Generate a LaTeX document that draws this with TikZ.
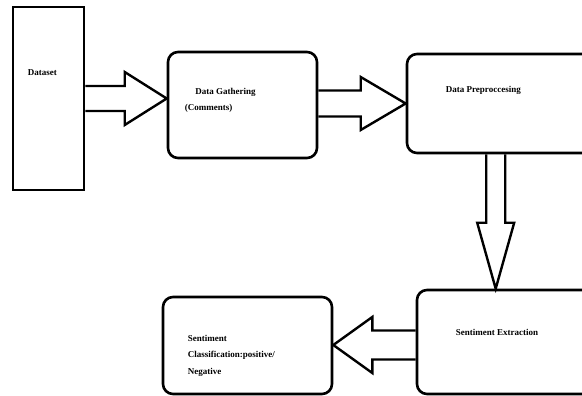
\documentclass[tikz,border=0pt]{standalone}
\usepackage{fontspec}
\setmainfont{Liberation Serif}
\usetikzlibrary{calc,positioning}
\tikzset{
  stagebox/.style={draw, line width=2.6pt, rounded corners=10pt, inner sep=0pt},
  databox/.style={stagebox, rounded corners=0pt},
  stagetext/.style={inner sep=0pt, anchor=north west, align=left,
    font=\fontsize{9}{16.5}\selectfont\bfseries},
  fatarr/.style={draw, line width=2.4pt, line join=miter}
}
% hollow block arrow: from, to, shaft half width, head half width, head length
\newcommand{\fatarrow}[5]{%
  \coordinate (neck) at ($(#2)!#5!(#1)$);
  \draw[fatarr] ($(#1)!#3!90:(#2)$) -- ($(neck)!#3!90:(#2)$) -- ($(neck)!#4!90:(#2)$)
    -- (#2) -- ($(neck)!#4!-90:(#2)$) -- ($(neck)!#3!-90:(#2)$) -- ($(#1)!#3!-90:(#2)$);
}

\begin{document}
\begin{tikzpicture}[x=1pt, y=-1pt]
    \useasboundingbox (0,0) rectangle (582,396);
    \clip (0,0) rectangle (582,396);
    % stages
    \node[databox, minimum width=71pt, minimum height=183pt] (dataset) at (48.5,98.5) {};
    \node[stagebox, minimum width=149pt, minimum height=106pt] (gather) at (242.5,105) {};
    \node[stagebox, minimum width=200pt, minimum height=99pt] (preproc) at (507,103.5) {};
    \node[stagebox, minimum width=200pt, minimum height=104pt] (extract) at (517,342) {};
    \node[stagebox, minimum width=169pt, minimum height=97pt] (classif) at (247.5,345.5) {};
    % labels
    \node[stagetext] (datasetText) at ($(dataset.north west)+(16,64)$) {Dataset};
    \node[stagetext] (gatherText) at ($(gather.north west)+(18,37)$) {\hspace*{10.5pt}Data Gathering\\(Comments)};
    \node[stagetext] (preprocText) at ($(preproc.north west)+(40,33)$) {Data Preproccesing};
    \node[stagetext] (extractText) at ($(extract.north west)+(40,40)$) {Sentiment Extraction};
    \node[stagetext] (classifText) at ($(classif.north west)+(26,39)$) {Sentiment\\Classification:positive/\\Negative};
    % flow
    \coordinate (tipGather) at (dataset.east -| gather.west);
    \coordinate (tailPre) at (gather.east |- preproc.west);
    \coordinate (tailDown) at ($(preproc.south west)+(90,0)$);
    \coordinate (tipExtract) at (tailDown |- extract.north);
    \coordinate (tailExtract) at ($(extract.west)+(0,3)$);
    \coordinate (tipClassif) at (tailExtract -| classif.east);
    \fatarrow{dataset.east}{tipGather}{12.5pt}{26.5pt}{42pt}
    \fatarrow{tailPre}{preproc.west}{13pt}{26.5pt}{45pt}
    \fatarrow{tailDown}{tipExtract}{9.5pt}{18.5pt}{66pt}
    \fatarrow{tailExtract}{tipClassif}{14.5pt}{28pt}{39pt}
  \end{tikzpicture}
\end{document}
